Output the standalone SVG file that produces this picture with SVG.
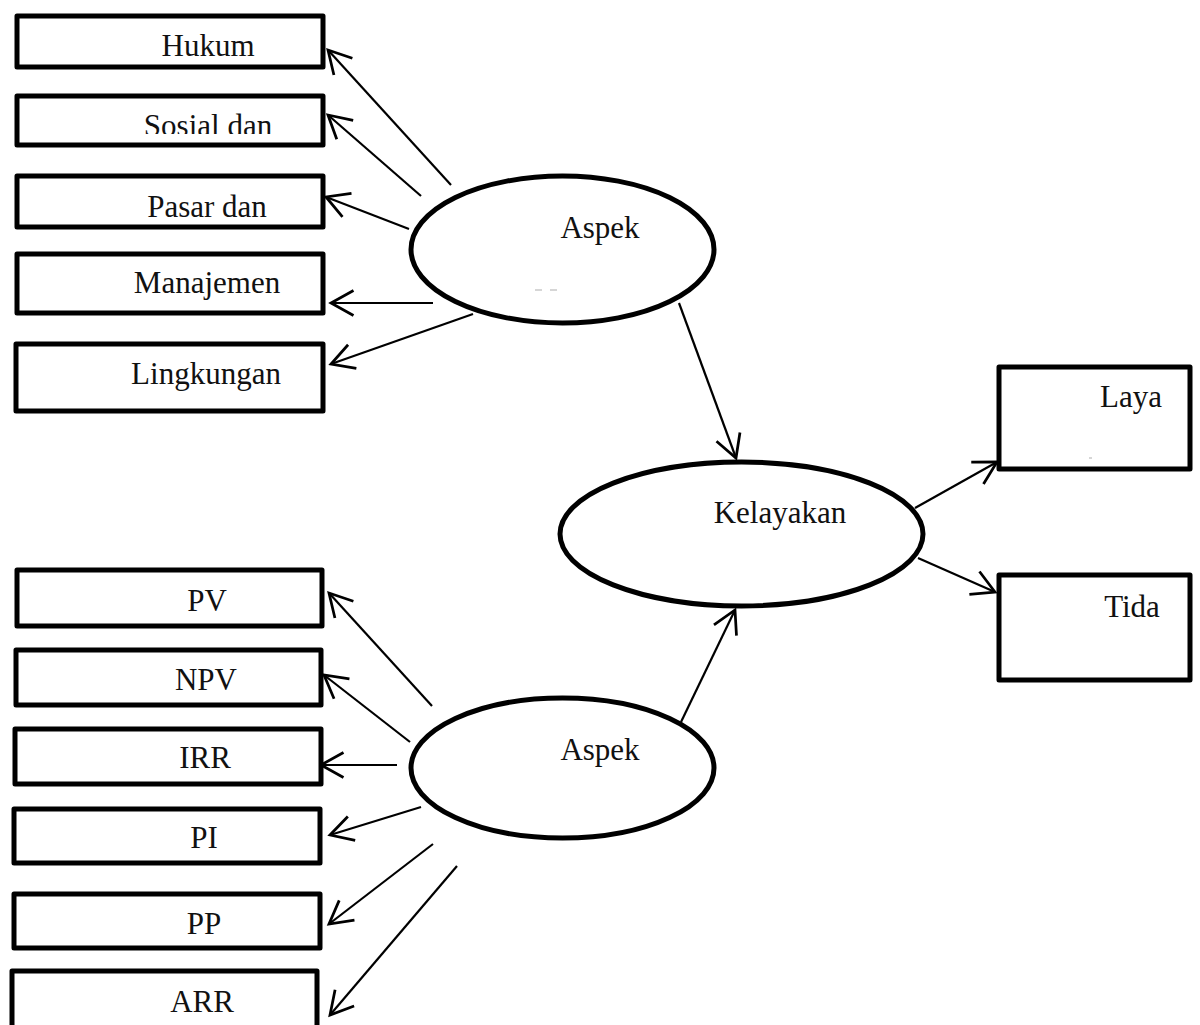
<svg xmlns="http://www.w3.org/2000/svg" width="1200" height="1025" viewBox="0 0 1200 1025">
  <style>
    .box { fill: #fff; stroke: #000; stroke-width: 5; stroke-linejoin: round; }
    .oval { fill: #fff; stroke: #000; stroke-width: 5; }
    .lbl { font-family: "Liberation Serif", "Times New Roman", serif; font-size: 31px; fill: #111; text-anchor: middle; }
    .edge { stroke: #000; stroke-width: 2.2; fill: none; marker-end: url(#open); }
    .speck { stroke: #bbb; stroke-width: 1.2; }
  </style>
  <defs>
    <marker id="open" markerUnits="userSpaceOnUse" markerWidth="30" markerHeight="30" viewBox="-20 -12 24 24" refX="0" refY="0" orient="auto" overflow="visible">
      <path d="M-18,-10 L0,0 L-18,10" fill="none" stroke="#000" stroke-width="2.2" stroke-linejoin="miter"/>
    </marker>
    <clipPath id="sosialClip">
      <rect x="0" y="96" width="330" height="38"/>
    </clipPath>
  </defs>
  <rect width="1200" height="1025" fill="#fff"/>

  <!-- connectors -->
  <g id="connectors">
    <line class="edge" x1="451" y1="185" x2="328" y2="50"/>
    <line class="edge" x1="421" y1="196" x2="328" y2="115"/>
    <line class="edge" x1="409" y1="229" x2="326" y2="197"/>
    <line class="edge" x1="433" y1="303" x2="331" y2="303"/>
    <line class="edge" x1="473" y1="314" x2="331" y2="364"/>
    <line class="edge" x1="679" y1="303" x2="736" y2="458"/>
    <line class="edge" x1="915" y1="508" x2="997" y2="462"/>
    <line class="edge" x1="918" y1="558" x2="995" y2="592"/>
    <line class="edge" x1="681" y1="722" x2="735" y2="610"/>
    <line class="edge" x1="432" y1="706" x2="329" y2="593"/>
    <line class="edge" x1="410" y1="742" x2="324" y2="675"/>
    <line class="edge" x1="397" y1="765" x2="321" y2="765"/>
    <line class="edge" x1="421" y1="807" x2="330" y2="835"/>
    <line class="edge" x1="433" y1="844" x2="329" y2="924"/>
    <line class="edge" x1="457" y1="866" x2="330" y2="1015"/>
  </g>

  <!-- non-financial aspect indicators -->
  <g id="n-hukum">
    <rect class="box" x="17" y="16" width="306" height="51"/>
    <text class="lbl" x="208" y="56">Hukum</text>
  </g>
  <g id="n-sosial">
    <rect class="box" x="17" y="96" width="306" height="49"/>
    <text class="lbl" x="208" y="136" clip-path="url(#sosialClip)">Sosial dan</text>
  </g>
  <g id="n-pasar">
    <rect class="box" x="17" y="176" width="306" height="51"/>
    <text class="lbl" x="207" y="217">Pasar dan</text>
  </g>
  <g id="n-manajemen">
    <rect class="box" x="17" y="254" width="306" height="59"/>
    <text class="lbl" x="207" y="293">Manajemen</text>
  </g>
  <g id="n-lingkungan">
    <rect class="box" x="16" y="344" width="307" height="67"/>
    <text class="lbl" x="206" y="384">Lingkungan</text>
  </g>

  <g id="n-aspek-atas">
    <ellipse class="oval" cx="562.5" cy="249.5" rx="151.5" ry="73.5"/>
    <text class="lbl" x="600" y="238">Aspek</text>
    <line class="speck" x1="535" y1="290" x2="542" y2="290"/>
    <line class="speck" x1="550" y1="290" x2="557" y2="290"/>
  </g>

  <g id="n-kelayakan">
    <ellipse class="oval" cx="741.5" cy="534" rx="181.5" ry="72"/>
    <text class="lbl" x="780" y="523">Kelayakan</text>
  </g>

  <g id="n-laya">
    <rect class="box" x="999" y="367" width="191" height="102"/>
    <text class="lbl" x="1131" y="407">Laya</text>
    <line class="speck" x1="1089" y1="458" x2="1092" y2="458"/>
  </g>
  <g id="n-tida">
    <rect class="box" x="999" y="575" width="191" height="105"/>
    <text class="lbl" x="1132" y="617">Tida</text>
  </g>

  <!-- financial aspect indicators -->
  <g id="n-aspek-bawah">
    <ellipse class="oval" cx="562.5" cy="768" rx="151.5" ry="70"/>
    <text class="lbl" x="600" y="760">Aspek</text>
  </g>

  <g id="n-pv">
    <rect class="box" x="17" y="570" width="305" height="56"/>
    <text class="lbl" x="207" y="611">PV</text>
  </g>
  <g id="n-npv">
    <rect class="box" x="16" y="650" width="305" height="55"/>
    <text class="lbl" x="206" y="690">NPV</text>
  </g>
  <g id="n-irr">
    <rect class="box" x="15" y="729" width="306" height="55"/>
    <text class="lbl" x="205" y="768">IRR</text>
  </g>
  <g id="n-pi">
    <rect class="box" x="14" y="809" width="306" height="54"/>
    <text class="lbl" x="204" y="848">PI</text>
  </g>
  <g id="n-pp">
    <rect class="box" x="14" y="894" width="306" height="54"/>
    <text class="lbl" x="204" y="934">PP</text>
  </g>
  <g id="n-arr">
    <rect class="box" x="12" y="971" width="305" height="70"/>
    <text class="lbl" x="202" y="1012">ARR</text>
  </g>
</svg>
